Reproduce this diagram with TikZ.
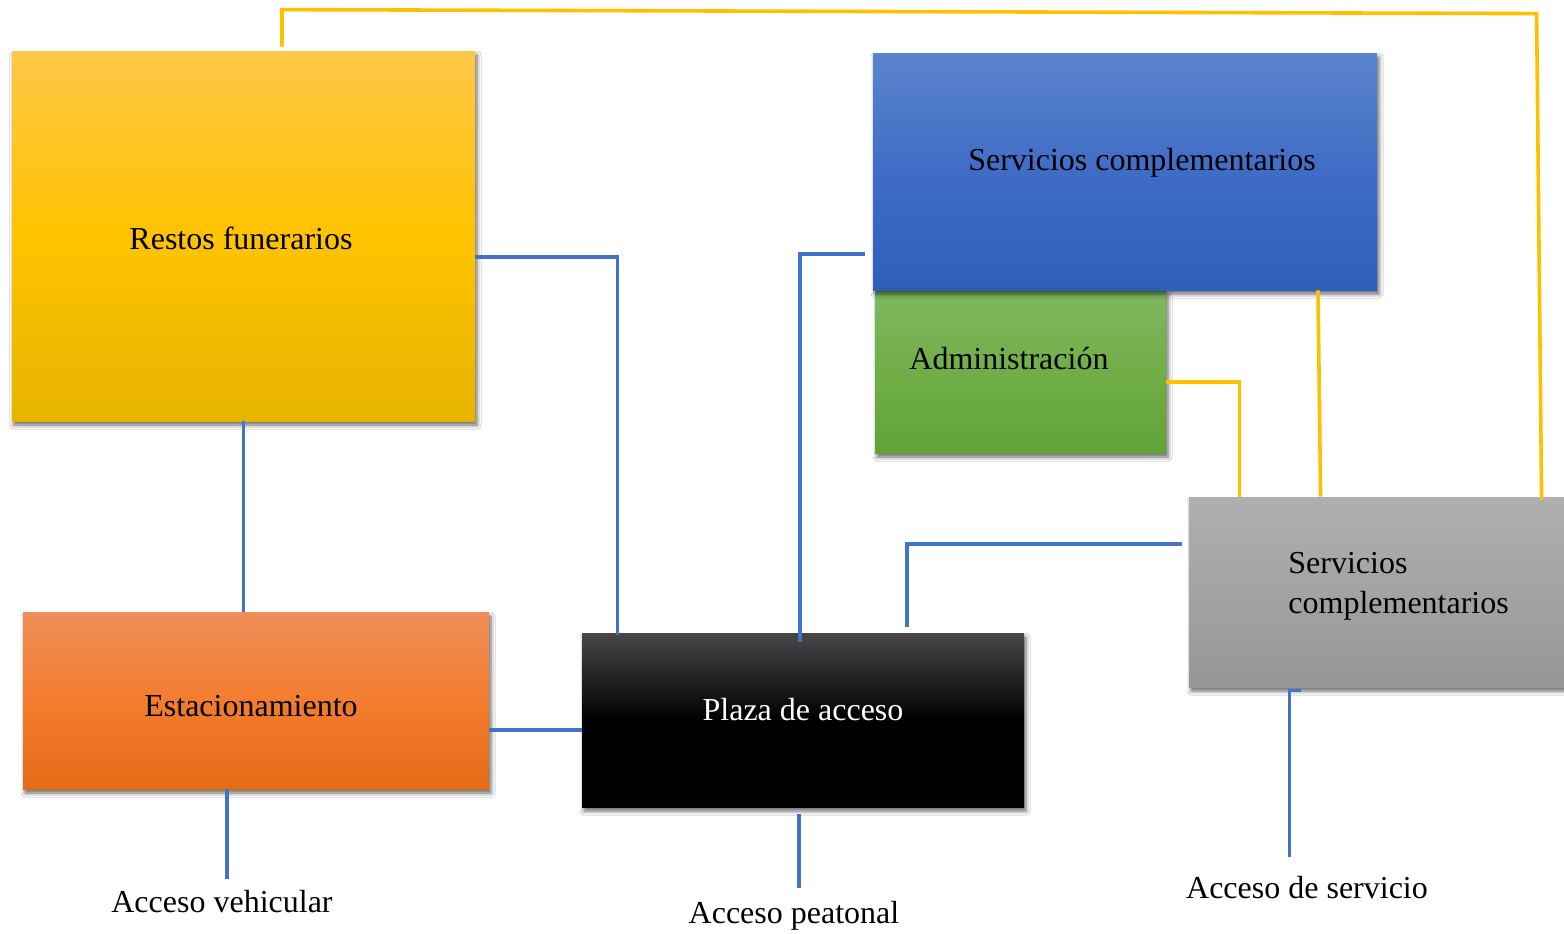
\documentclass[tikz,border=0pt]{standalone}
\usepackage{fontspec}
\setmainfont{Liberation Serif}
\usetikzlibrary{calc,shadows.blur}
\definecolor{lnblue}{HTML}{4472C4}
\definecolor{lnyel}{HTML}{FFC000}
\definecolor{yTop}{HTML}{FFC747}
\definecolor{yMid}{HTML}{FFC300}
\definecolor{yBot}{HTML}{E6B400}
\definecolor{oTop}{HTML}{F08E5A}
\definecolor{oMid}{HTML}{F47C2E}
\definecolor{oBot}{HTML}{E46B17}
\definecolor{bTop}{HTML}{5C84CC}
\definecolor{bMid}{HTML}{3F6DC6}
\definecolor{bBot}{HTML}{2E5FB7}
\definecolor{gTop}{HTML}{80B860}
\definecolor{gMid}{HTML}{71AE47}
\definecolor{gBot}{HTML}{61A336}
\definecolor{sTop}{HTML}{AFAFAF}
\definecolor{sMid}{HTML}{A3A3A3}
\definecolor{sBot}{HTML}{969696}
\definecolor{kTop}{HTML}{474747}
\begin{document}
\begin{tikzpicture}[x=0.5pt,y=-0.5pt,
  font=\fontsize{16}{20}\selectfont,
  box/.style={rectangle,inner sep=0pt,draw=none,
    blur shadow={shadow xshift=1pt,shadow yshift=-2pt,shadow blur radius=2pt,shadow opacity=60}},
  txt/.style={inner sep=0pt,anchor=base},
  txtl/.style={inner sep=0pt,anchor=base west,align=left},
  bl/.style={draw=lnblue,line width=1.8pt},
  yl/.style={draw=lnyel,line width=1.8pt}]
\useasboundingbox (0,0) rectangle (1564,933);
\fill[white] (0,0) rectangle (1564,933);

% boxes
\node[box,minimum width=231.5pt,minimum height=185pt,top color=yTop,bottom color=yBot,middle color=yMid] (rest) at (243.5,236) {};
\node[box,minimum width=145.5pt,minimum height=81.5pt,top color=gTop,bottom color=gBot,middle color=gMid] (adm) at (1020.5,371.5) {};
\node[box,minimum width=252pt,minimum height=118.5pt,top color=bTop,bottom color=bBot,middle color=bMid] (blu) at (1125,171.5) {};
\node[box,minimum width=193pt,minimum height=95pt,top color=sTop,bottom color=sBot,middle color=sMid] (gry) at (1382,592) {};
\node[box,minimum width=233pt,minimum height=88.5pt,top color=oTop,bottom color=oBot,middle color=oMid] (est) at (256,700.5) {};
\node[box,minimum width=221pt,minimum height=87pt,top color=kTop,bottom color=black,middle color=black] (pla) at (803,720) {};

% texts
\node[txt] (trest) at (241,249) {Restos funerarios};
\node[txtl] (tadm) at (909,369) {Administración};
\node[txt] (tblu) at (1142,170) {Servicios complementarios};
\node[txtl] (tgry) at (1288,613) {Servicios\\complementarios};
\node[txt] (test) at (251,716) {Estacionamiento};
\node[txt,text=white] (tpla) at (803,720) {Plaza de acceso};
\node[txt] (lveh) at (222,912) {Acceso vehicular};
\node[txt] (lpea) at (794,923) {Acceso peatonal};
\node[txt] (lser) at (1307,898) {Acceso de servicio};

% blue connectors
\draw[bl] (rest.south) -- (rest.south |- est.north);
\draw[bl] ($(rest.east)+(0,21)$) -| ($(pla.north west)+(36,2)$);
\coordinate (c1) at ($(est.east)+(0,29.5)$);
\draw[bl] (c1) -- (c1 -| pla.west);
\draw[bl] ($(blu.west)+(-8,82.5)$) -| ($(pla.north)+(-3,9)$);
\draw[bl] ($(pla.north)+(104,-6)$) |- ($(gry.west)+(-7,-48)$);
\coordinate (c2) at ($(est.south)+(-29,0)$);
\draw[bl] (c2) -- ($(c2 |- lveh.north)+(0,-10)$);
\coordinate (c3) at ($(pla.south)+(-4,7)$);
\draw[bl] (c3) -- ($(c3 |- lpea.north)+(0,-12)$);
\coordinate (c4) at ($(gry.south west)+(101,3)$);
\draw[bl] ($(c4)+(11,0)$) -- (c4) -- ($(c4 |- lser.north)+(0,-18)$);

% yellow connectors
\draw[yl] ($(rest.north)+(38.5,-4)$) -- ++(0,-37) -- ($(gry.north west)+(348,-483)$) -- ($(gry.north west)+(353,3)$);
\draw[yl] ($(adm.east)+(0,10.5)$) -| ($(gry.north west)+(51,0)$);
\draw[yl] ($(blu.south)+(193,0)$) -- ($(gry.north west)+(132,0)$);
\end{tikzpicture}
\end{document}
